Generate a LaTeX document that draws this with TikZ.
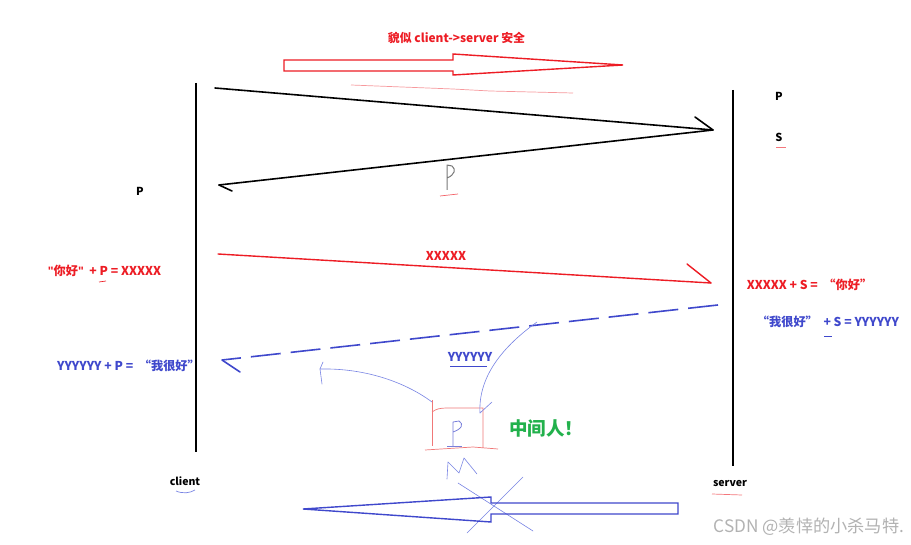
\documentclass[tikz,border=0pt]{standalone}
\usepackage{fontspec}
\setmainfont{Noto Sans CJK SC}[Ligatures=ResetAll]
\newfontfamily\latq{Liberation Sans}[Ligatures=ResetAll]
\newcommand{\sq}{{\latq\bfseries\symbol{34}}}
\definecolor{myred}{RGB}{237,28,36}
\definecolor{myblue}{RGB}{63,72,204}
\definecolor{thinblue}{RGB}{120,132,228}
\definecolor{mygreen}{RGB}{34,177,76}
\definecolor{boxred}{RGB}{240,120,120}
\definecolor{pgray}{RGB}{120,120,120}
\begin{document}
\begin{tikzpicture}[x=1pt,y=-1pt,
  lbl/.style={inner sep=0pt, font=\fontsize{12.2}{14}\selectfont\bfseries},
  sml/.style={inner sep=0pt, font=\fontsize{10.5}{12}\selectfont\bfseries},
  lifeline/.style={line width=1.6pt, black},
  blk/.style={line width=1.6pt, black, line cap=round, line join=round},
  redln/.style={line width=1.4pt, myred, line cap=round, line join=round},
  blueln/.style={line width=1.6pt, myblue},
  thin/.style={line width=0.6pt, thinblue, line cap=round, line join=round},
  hollow/.style={line width=1.4pt, line join=miter},
  uline/.style={line width=0.7pt}]
\useasboundingbox (0,0) rectangle (911,545);
\fill[white] (0,0) rectangle (911,545);

% lifelines
\coordinate (cTop) at (196,83); \coordinate (cBot) at (196,452);
\coordinate (sTop) at (733,90); \coordinate (sBot) at (733,466);
\draw[lifeline] (cTop) -- (cBot);
\draw[lifeline] (sTop) -- (sBot);

% top hollow red arrow
\draw[hollow, myred] (284,60) -- (453,60) -- (453,54) -- (623,65) -- (453,75) -- (453,71) -- (284,71) -- cycle;
\draw[line width=0.7pt, myred!45] (351,85) -- (453,89) -- (490,91) -- (573,93);
\node[lbl, font=\fontsize{11.9}{14}\selectfont\bfseries, text=myred] (title) at (456.5,38) {貌似 client->server 安全};

% black exchange
\coordinate (a1) at (215,88); \coordinate (a2) at (713,130); \coordinate (a3) at (219,185);
\draw[blk] (a1) -- (a2) -- (a3);
\draw[blk] (a2) -- (695,117);
\draw[blk] (a3) -- (232,191);

% gray P on line
\coordinate (gp) at (447,165);
\draw[line width=1pt, pgray, line join=round] (447,190) -- (gp) -- (452,166) .. controls (456,169) and (455,175) .. (447,178);
\draw[uline, myred!70] (440,196) -- (458,194);

\node[sml, font=\fontsize{11}{12}\selectfont\bfseries] (pL) at (140,191) {P};
\node[sml, font=\fontsize{11}{12}\selectfont\bfseries] (pR) at (779,96) {P};
\node[sml, font=\fontsize{11}{12}\selectfont\bfseries] (sR) at (779,137) {S};
\draw[uline, myred!60] (776,147) -- (786,147);

% red message
\coordinate (r1) at (218,254); \coordinate (r2) at (711,283);
\draw[redln] (r1) -- (r2);
\draw[redln] (r2) -- (687,264);
\node[lbl, text=myred] (xx) at (446,256) {XXXXX};
\node[lbl, text=myred] (encL) at (104.5,271) {\sq 你好\sq\ \ + P = XXXXX};
\draw[uline, myred] (99,282) -- (106,281);
\node[lbl, text=myred] (decR) at (809.5,285) {XXXXX + S = \ “你好”};

% blue dashed message
\coordinate (b1) at (718,305); \coordinate (b2) at (222,360);
\draw[blueln, dash pattern=on 30pt off 10pt] (b1) -- (b2);
\draw[blueln, line cap=round] (b2) -- (240,372);
\node[lbl, text=myblue] (encR) at (828,322) {“我很好” \ + S = YYYYYY};
\draw[uline, myblue] (824,336) -- (832,336);
\node[lbl, text=myblue] (decL) at (128.5,366) {YYYYYY + P = \ “我很好”};
\node[lbl, text=myblue] (yy) at (470,357) {YYYYYY};
\draw[uline, myblue] (450,366) -- (487,366);

% middle man box
\coordinate (bx1) at (432,400); \coordinate (bx2) at (483,408);
\draw[line width=0.7pt, boxred] (bx1) -- (432,446);
\draw[line width=0.7pt, boxred] (432,412) .. controls (436,409) and (440,408) .. (447,408) -- (bx2) -- (483,448);
\draw[line width=0.7pt, boxred] (425,450) -- (473,447) -- (498,449);
\draw[line width=0.8pt, myblue!70, line join=round] (453,446) -- (453,422) -- (459,421) .. controls (464,424) and (462,429) .. (453,432);
\draw[line width=0.8pt, myblue!70] (447,446) -- (462,446);
\node[inner sep=0pt, font=\fontsize{18.5}{20}\selectfont\bfseries, text=mygreen] (mitm) at (546,428) {中间人！};

% thin blue curves
\coordinate (c1s) at (432,402); \coordinate (c1e) at (320,369);
\draw[thin] (c1s) .. controls (405,382) and (365,368) .. (c1e);
\draw[thin] (323,362) -- (c1e) -- (322,384);
\coordinate (c2s) at (537,322); \coordinate (c2e) at (480,413);
\draw[thin] (c2s) .. controls (505,345) and (478,375) .. (c2e);
\draw[thin] (c2e) -- (492,402);
\draw[thin] (447,479) -- (448,462) -- (459,473) -- (464,458) -- (477,474);
\draw[thin] (458,483) -- (533,531);
\draw[thin] (523,477) -- (467,533);

% bottom hollow blue arrow
\draw[hollow, myblue] (678,503) -- (491,503) -- (491,497) -- (303,509) -- (491,522) -- (491,514) -- (678,514) -- cycle;

% labels
\node[sml] (client) at (185,481) {client};
\draw[uline, thinblue] (176,491) .. controls (183,494) and (190,493) .. (195,490);
\node[sml] (server) at (730,484) {server};
\draw[uline, myred!60] (712,494) -- (742,495);
\node[inner sep=0pt, font=\fontsize{17.2}{19}\selectfont, text=black!30] (wm) at (809,527) {CSDN @羡悻的小杀马特.};
\end{tikzpicture}
\end{document}
